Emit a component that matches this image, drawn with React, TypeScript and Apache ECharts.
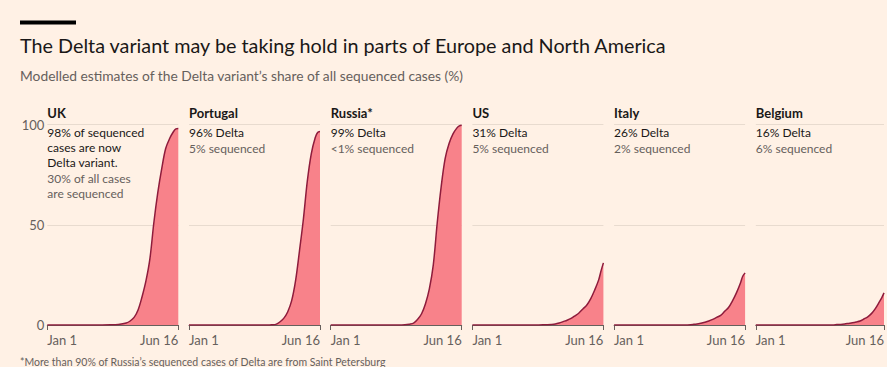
import React, { useEffect, useRef } from "react";
import * as echarts from "echarts";

// Days since Jan 1 2021 (Jun 16 = day 166)
const days = [0, 30, 60, 80, 90, 100, 105, 110, 115, 120, 125, 130, 135, 140, 145, 150, 155, 160, 163, 166];

const ukValues = [0, 0, 0, 0.1, 0.3, 1, 2, 3.8, 7.5, 14, 22, 33, 51, 66, 78, 88, 93, 96.5, 97.8, 98];
const portugalValues = [0, 0, 0, 0, 0, 0, 0.1, 0.3, 1.5, 3.3, 6.5, 12, 22, 37, 53, 72, 85.5, 93.5, 96, 96.5];
const russiaValues = [0, 0, 0, 0, 0, 0.4, 0.9, 2.8, 5.5, 10.5, 18, 30, 51, 69, 83, 90.5, 95.3, 98.3, 99.3, 99.6];
const usValues = [0, 0, 0, 0, 0.1, 0.3, 0.5, 1, 1.7, 2.4, 3.3, 4.6, 6, 8, 10, 13.2, 17.5, 22.5, 27, 31];
const italyValues = [0, 0, 0, 0, 0, 0.3, 0.5, 0.9, 1.4, 2, 2.8, 3.8, 4.8, 6.8, 8.7, 12, 16, 20.8, 24.3, 26];
const belgiumValues = [0, 0, 0, 0, 0, 0, 0.2, 0.3, 0.5, 0.8, 1.1, 1.5, 2, 3, 4.1, 5.8, 8.3, 11.5, 13.5, 16];

const countries = ["UK", "Portugal", "Russia*", "US", "Italy", "Belgium"];
const seriesValues = [ukValues, portugalValues, russiaValues, usValues, italyValues, belgiumValues];
const deltaLines = [
  ["98% of sequenced", "cases are now", "Delta variant."],
  ["96% Delta"],
  ["99% Delta"],
  ["31% Delta"],
  ["26% Delta"],
  ["16% Delta"],
];
const sequencedLines = [
  ["30% of all cases", "are sequenced"],
  ["5% sequenced"],
  ["<1% sequenced"],
  ["5% sequenced"],
  ["2% sequenced"],
  ["6% sequenced"],
];
const xTickValues = [0, 166];
const xTickLabels: Record<number, string> = { 0: "Jan 1", 166: "Jun 16" };
const yTicks = [0, 50, 100];

const TITLE = "The Delta variant may be taking hold in parts of Europe and North America";
const SUBTITLE = "Modelled estimates of the Delta variant\u2019s share of all sequenced cases (%)";
const FOOTNOTE = "*More than 90% of Russia\u2019s sequenced cases of Delta are from Saint Petersburg";

const FONT = "Lato, 'Open Sans', sans-serif";
const BG = "#fff1e5";
const GREY = "#66605c";
const DARK = "#1a1817";
const FILL = "#f8828a";
const LINE = "#8e1c3c";

export default function App() {
  const ref = useRef<HTMLDivElement>(null);

  useEffect(() => {
    if (!ref.current) return;
    const chart = echarts.init(ref.current, undefined, { renderer: "svg" });

    const left0 = 47.3;
    const pitch = 141.7;
    const w = 131;
    const top = 124.5;
    const h = 200.5;

    const grids: any[] = [];
    const xAxes: any[] = [];
    const yAxes: any[] = [];
    const series: any[] = [];
    const graphics: any[] = [];

    countries.forEach((name, i) => {
      const left = left0 + i * pitch;
      grids.push({ left, top, width: w, height: h, containLabel: false });
      xAxes.push({
        type: "value",
        gridIndex: i,
        min: 0,
        max: 166,
        axisLine: { show: true, lineStyle: { color: GREY, width: 1 } },
        axisTick: { show: true, customValues: xTickValues, length: 5, lineStyle: { color: GREY } },
        axisLabel: {
          show: true,
          customValues: xTickValues,
          formatter: (v: number) => xTickLabels[v] ?? "",
          color: GREY,
          fontFamily: FONT,
          fontSize: 13,
          margin: 8,
          alignMinLabel: "left",
          alignMaxLabel: "right",
        },
        splitLine: { show: false },
      });
      yAxes.push({
        type: "value",
        gridIndex: i,
        min: 0,
        max: 100,
        interval: 50,
        axisLine: { show: false },
        axisTick: { show: false },
        axisLabel: {
          show: i === 0,
          color: GREY,
          fontFamily: FONT,
          fontSize: 13,
          margin: 3,
          customValues: yTicks,
        },
        splitLine: { show: true, lineStyle: { color: "#e8dbcf", width: 1 } },
      });
      series.push({
        type: "line",
        xAxisIndex: i,
        yAxisIndex: i,
        data: days.map((d, j) => [d, seriesValues[i][j]]),
        smooth: 0.35,
        showSymbol: false,
        symbol: "none",
        lineStyle: { color: LINE, width: 1.5 },
        areaStyle: { color: FILL, opacity: 1 },
        z: 3,
      });

      graphics.push({
        type: "text",
        x: left,
        y: 113,
        style: {
          text: name,
          fill: DARK,
          font: `bold 13px ${FONT}`,
          textVerticalAlign: "middle",
        },
      });
      let y = 132;
      deltaLines[i].forEach((t) => {
        graphics.push({
          type: "text",
          x: left,
          y,
          style: { text: t, fill: DARK, font: `12px ${FONT}`, textVerticalAlign: "middle" },
        });
        y += 15;
      });
      y += 1.5;
      sequencedLines[i].forEach((t) => {
        graphics.push({
          type: "text",
          x: left,
          y,
          style: { text: t, fill: GREY, font: `12px ${FONT}`, textVerticalAlign: "middle" },
        });
        y += 14.5;
      });
    });

    graphics.push(
      { type: "rect", shape: { x: 20, y: 20.5, width: 56, height: 4 }, style: { fill: "#000" } },
      {
        type: "text",
        x: 20,
        y: 45,
        style: { text: TITLE, fill: DARK, font: `19.8px ${FONT}`, textVerticalAlign: "middle" },
      },
      {
        type: "text",
        x: 20,
        y: 75,
        style: { text: SUBTITLE, fill: GREY, font: `13.8px ${FONT}`, textVerticalAlign: "middle" },
      },
      {
        type: "text",
        x: 20,
        y: 362,
        style: { text: FOOTNOTE, fill: GREY, font: `10.5px ${FONT}`, textVerticalAlign: "middle" },
      }
    );

    chart.setOption({
      animation: false,
      backgroundColor: BG,
      grid: grids,
      xAxis: xAxes,
      yAxis: yAxes,
      series,
      graphic: graphics,
    });

    return () => chart.dispose();
  }, []);

  return (
    <div
      ref={ref}
      style={{ position: "absolute", left: 0, top: 0, width: 887, height: 367, background: BG }}
    />
  );
}
